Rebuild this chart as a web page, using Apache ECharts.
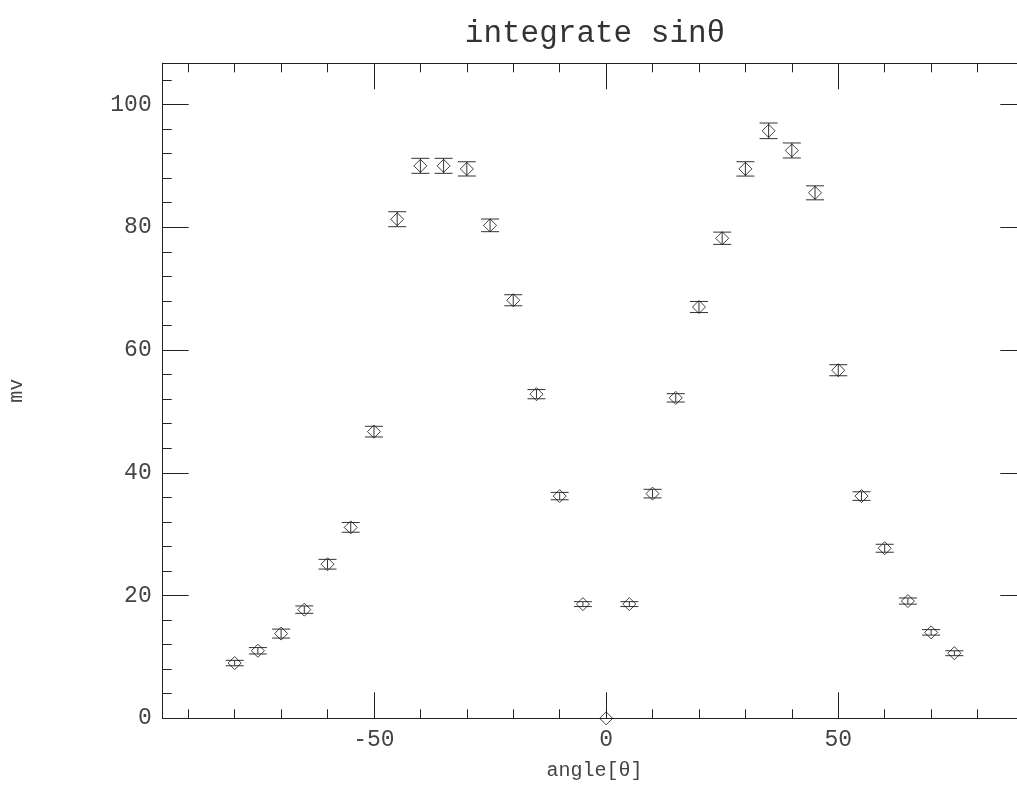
<!DOCTYPE html>
<html>
<head>
<meta charset="utf-8">
<script src="https://cdn.jsdelivr.net/npm/echarts@6/dist/echarts.min.js"></script>
<style>
  html, body { margin: 0; padding: 0; background: #fff; }
  #chart { width: 1017px; height: 789px; }
</style>
</head>
<body>
<div id="chart"></div>
<script>
// angle in degrees, measured value and its error
const angles = [-80, -75, -70, -65, -60, -55, -50, -45, -40, -35, -30, -25, -20, -15, -10, -5,
  0, 5, 10, 15, 20, 25, 30, 35, 40, 45, 50, 55, 60, 65, 70, 75];
const mv = [9.0, 11.0, 13.8, 17.7, 25.1, 31.1, 46.7, 81.3, 90.0, 90.0, 89.5, 80.3, 68.1, 52.8, 36.2, 18.6,
  0, 18.6, 36.6, 52.2, 67.0, 78.2, 89.5, 95.7, 92.5, 85.6, 56.7, 36.2, 27.7, 19.1, 14.0, 10.6];
const mvErr = [0.44, 0.52, 0.73, 0.6, 0.79, 0.79, 0.87, 1.22, 1.22, 1.22, 1.16, 1.03, 0.9, 0.75, 0.6, 0.4,
  0, 0.4, 0.7, 0.68, 0.9, 1.0, 1.17, 1.27, 1.22, 1.14, 0.9, 0.7, 0.65, 0.5, 0.45, 0.4];

const xMajor = [-50, 0, 50];
const xMinor = [-90, -80, -70, -60, -40, -30, -20, -10, 10, 20, 30, 40, 60, 70, 80, 90];
const yMajor = [0, 20, 40, 60, 80, 100];
const yMinor = [4, 8, 12, 16, 24, 28, 32, 36, 44, 48, 52, 56, 64, 68, 72, 76, 84, 88, 92, 96, 104];

const X_MIN = -95.5, X_MAX = 90.5;
const Y_MIN = 0, Y_MAX = 106.7;
const FONT = 'Liberation Mono';
const INK = '#222';

function xAx(pos, ticks, len, labels, extra) {
  return Object.assign({
    type: 'value', position: pos, min: X_MIN, max: X_MAX,
    axisLine: { show: true, onZero: false, lineStyle: { color: INK, width: 1 } },
    axisTick: { show: true, inside: true, length: len, customValues: ticks, lineStyle: { color: INK } },
    axisLabel: labels
      ? { show: true, customValues: xMajor, color: '#444', fontFamily: FONT, fontSize: 23, margin: 10 }
      : { show: false },
    splitLine: { show: false }
  }, extra || {});
}

function yAx(pos, ticks, len, labels, extra) {
  return Object.assign({
    type: 'value', position: pos, min: Y_MIN, max: Y_MAX,
    axisLine: { show: true, onZero: false, lineStyle: { color: INK, width: 1 } },
    axisTick: { show: true, inside: true, length: len, customValues: ticks, lineStyle: { color: INK } },
    axisLabel: labels
      ? { show: true, customValues: yMajor, color: '#444', fontFamily: FONT, fontSize: 23, margin: 11 }
      : { show: false },
    splitLine: { show: false }
  }, extra || {});
}

const chart = echarts.init(document.getElementById('chart'));

chart.setOption({
  backgroundColor: '#fff',
  animation: false,
  title: {
    text: 'integrate sinθ',
    left: 590, top: 13, textAlign: 'center',
    textStyle: { fontFamily: FONT, fontSize: 31, fontWeight: 'normal', color: '#333' }
  },
  grid: { left: 162.7, top: 63.3, width: 863.6, height: 655, outerBoundsMode: 'none', containLabel: false },
  xAxis: [
    xAx('bottom', xMajor, 26, true, {
      name: 'angle[θ]', nameLocation: 'middle', nameGap: 42,
      nameTextStyle: { fontFamily: FONT, fontSize: 20, color: '#444' }
    }),
    xAx('bottom', xMinor, 9, false),
    xAx('top', xMajor, 26, false),
    xAx('top', xMinor, 9, false)
  ],
  yAxis: [
    yAx('left', yMajor, 26, true, {
      name: 'mv', nameLocation: 'middle', nameGap: 136,
      nameTextStyle: { fontFamily: FONT, fontSize: 20, color: '#444' }
    }),
    yAx('left', yMinor, 9, false),
    yAx('right', yMajor, 26, false),
    yAx('right', yMinor, 9, false)
  ],
  series: [
    {
      type: 'custom',
      xAxisIndex: 0, yAxisIndex: 0,
      data: angles.map((a, i) => [a, mv[i], mvErr[i]]),
      renderItem: function (params, api) {
        const x = api.value(0), y = api.value(1), e = api.value(2);
        if (!e) return;
        const hi = api.coord([x, y + e]);
        const lo = api.coord([x, y - e]);
        const w = 9;
        const st = { stroke: '#333', lineWidth: 1 };
        return {
          type: 'group',
          children: [
            { type: 'line', shape: { x1: hi[0], y1: hi[1], x2: lo[0], y2: lo[1] }, style: st },
            { type: 'line', shape: { x1: hi[0] - w, y1: hi[1], x2: hi[0] + w, y2: hi[1] }, style: st },
            { type: 'line', shape: { x1: lo[0] - w, y1: lo[1], x2: lo[0] + w, y2: lo[1] }, style: st }
          ]
        };
      },
      z: 3
    },
    {
      type: 'scatter',
      xAxisIndex: 0, yAxisIndex: 0,
      symbol: 'diamond',
      symbolSize: 13,
      data: angles.map((a, i) => [a, mv[i]]),
      itemStyle: { color: 'transparent', borderColor: '#111', borderWidth: 1 },
      z: 4
    }
  ]
});
</script>
</body>
</html>
